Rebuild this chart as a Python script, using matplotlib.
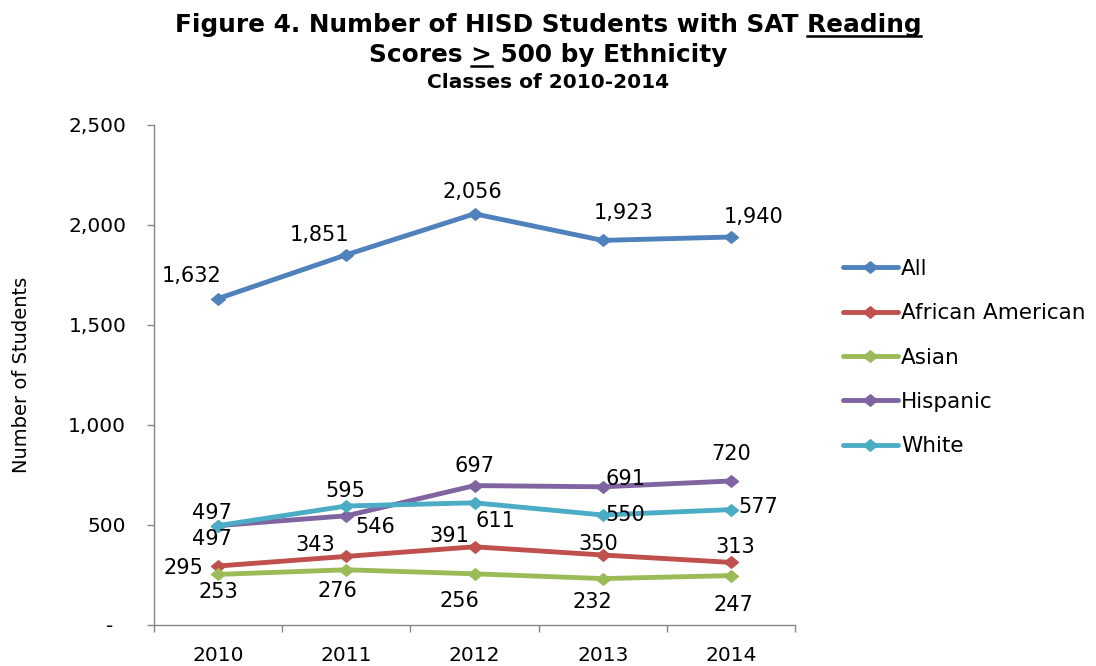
import matplotlib
matplotlib.use("Agg")
import matplotlib.pyplot as plt
from matplotlib.path import Path

years = ["2010", "2011", "2012", "2013", "2014"]
series_names = ["All", "African American", "Asian", "Hispanic", "White"]
all_students = [1632, 1851, 2056, 1923, 1940]
african_american = [295, 343, 391, 350, 313]
asian = [253, 276, 256, 232, 247]
hispanic = [497, 546, 697, 691, 720]
white = [497, 595, 611, 550, 577]
y_ticks = [0, 500, 1000, 1500, 2000, 2500]
y_tick_labels = ["-  ", "500", "1,000", "1,500", "2,000", "2,500"]

colors = ["#4F81BD", "#C0504D", "#9BBB59", "#8064A2", "#4BACC6"]
# label offsets in screen pixels (dx right, dy down) per point
offsets = [
    [(-27, -23), (-27, -20), (-2, -22), (21, -27), (23, -20)],
    [(-35, 2), (-31, -11), (-25, -11), (-4, -11), (4, -15)],
    [(0, 18), (-9, 21), (-15, 27), (-10, 23), (2, 29)],
    [(-6, 13), (29, 11), (0, -20), (23, -8), (0, -27)],
    [(-6, -13), (-1, -15), (21, 18), (23, 0), (27, -3)],
]

plt.rcParams["font.family"] = ["DejaVu Sans"]

diamond = Path([(-1.2, 0), (0, 1), (1.2, 0), (0, -1), (-1.2, 0)],
               [Path.MOVETO, Path.LINETO, Path.LINETO, Path.LINETO, Path.CLOSEPOLY])

fig = plt.figure(figsize=(10.96, 6.66), dpi=100)
ax = fig.add_axes([154 / 1096, 1 - 625 / 666, (795 - 154) / 1096, 500 / 666])

data = [all_students, african_american, asian, hispanic, white]
x = list(range(len(years)))
for name, vals, c, offs in zip(series_names, data, colors, offsets):
    ax.plot(x, vals, color=c, lw=3.5, marker=diamond, ms=10, label=name,
            solid_joinstyle="round", solid_capstyle="round")
    for xi, v, (dx, dy) in zip(x, vals, offs):
        ax.annotate(f"{v:,}", (xi, v), xytext=(dx, -dy), textcoords="offset pixels",
                    ha="center", va="center", fontsize=15, color="#000000")

ax.set_xlim(-0.5, 4.5)
ax.set_ylim(0, 2500)
ax.set_yticks(y_ticks)
ax.set_yticklabels(y_tick_labels, fontsize=14.5)
ax.set_xticks(x)
ax.set_xticklabels(years, fontsize=14.5)
ax.set_xticks([i - 0.5 for i in range(len(years) + 1)], minor=True)
ax.tick_params(axis="x", which="major", length=0, pad=15)
ax.tick_params(axis="x", which="minor", length=5, color="#868686", width=1)
ax.tick_params(axis="y", length=5, color="#868686", width=1, pad=15)
for s in ["top", "right"]:
    ax.spines[s].set_visible(False)
for s in ["left", "bottom"]:
    ax.spines[s].set_color("#868686")
    ax.spines[s].set_linewidth(1)
ax.set_ylabel("Number of Students", fontsize=14)
ax.yaxis.set_label_coords((31 - 154) / 641, 0.5)

leg = fig.legend(loc="upper left", bbox_to_anchor=(843 / 1096, 1 - 259 / 666),
                 frameon=False, fontsize=15.5, handlelength=2.55, labelspacing=1.13,
                 handletextpad=0.15, borderaxespad=0, borderpad=0)

# Titles
tkw = dict(family=["DejaVu Sans"], weight="bold")
line1_pre = "Figure 4. Number of HISD Students with SAT "
line1_u = "Reading"
t1 = fig.text(0.5, 1 - 32 / 666, line1_pre + line1_u, fontsize=17.8, ha="center", va="baseline", **tkw)
t2 = fig.text(0.5, 1 - 62 / 666, "Scores > 500 by Ethnicity", fontsize=17.8, ha="center", va="baseline", **tkw)
fig.text(0.5, 1 - 88 / 666, "Classes of 2010-2014", fontsize=14.5, ha="center", va="baseline", **tkw)

fig.canvas.draw()
r = fig.canvas.get_renderer()

def width_of(s, size):
    tmp = fig.text(0, 0, s, fontsize=size, **tkw)
    w = tmp.get_window_extent(r).width
    tmp.remove()
    return w

def underline(textobj, prefix, word, size, drop):
    bb = textobj.get_window_extent(r)
    full = width_of(prefix + word, size)
    x1 = bb.x0 + full
    ww = width_of(word, size)
    x0 = x1 - ww
    y = textobj.get_position()[1] * fig.bbox.height - drop
    fig.add_artist(plt.Line2D([x0 / fig.bbox.width, x1 / fig.bbox.width],
                              [y / fig.bbox.height] * 2, color="black", lw=1.8,
                              transform=fig.transFigure))

underline(t1, line1_pre, line1_u, 17.8, 4)
underline(t2, "Scores ", ">", 17.8, 4)

fig.savefig("out.png", dpi=100)
